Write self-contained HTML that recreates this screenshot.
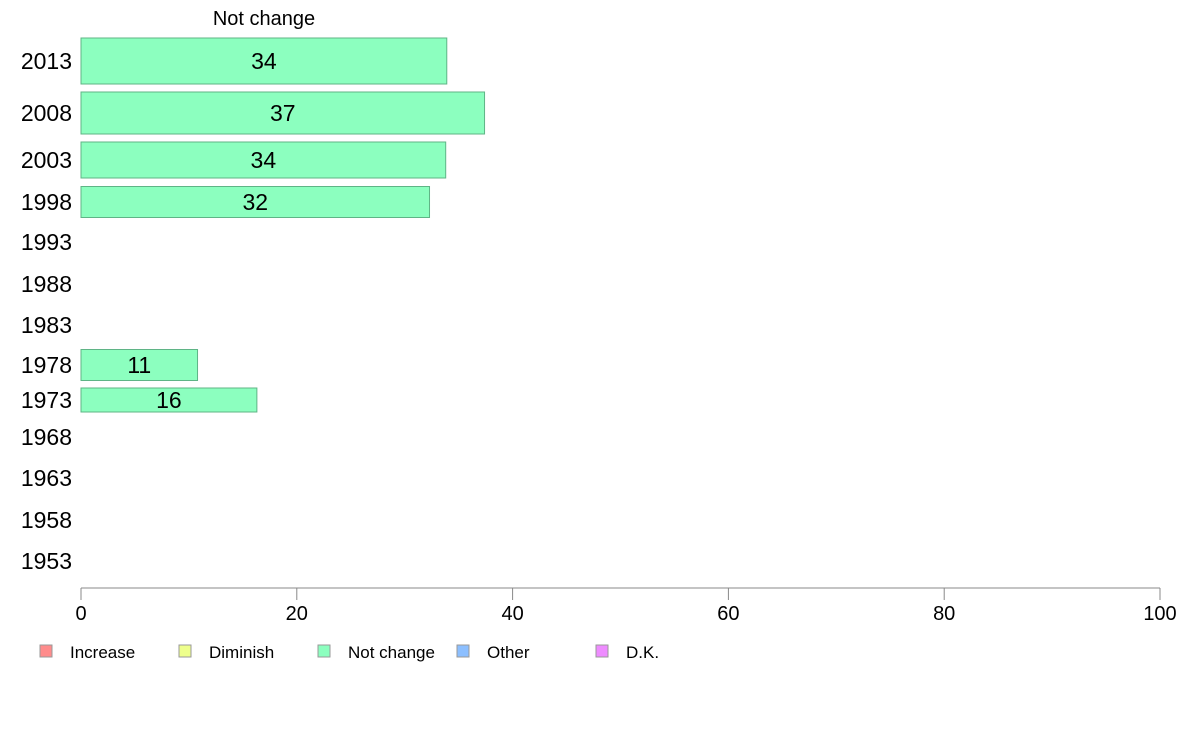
<!DOCTYPE html>
<html><head><meta charset="utf-8"><style>
body{margin:0;background:#fff;}
svg text{font-family:"Liberation Sans",sans-serif;}
</style></head><body>
<svg width="1188" height="736">
<g id="g"></g>
</svg>
<script>
const years=["2013","2008","2003","1998","1993","1988","1983","1978","1973","1968","1963","1958","1953"];
const notChange=[33.9,37.4,33.8,32.3,null,null,null,10.8,16.3,null,null,null,null];
const rowHeights=[46,42,36,31,0,0,0,31,24,0,0,0,0];
const ticks=[0,20,40,60,80,100];
const legendLabels=["Increase","Diminish","Not change","Other","D.K."];
const legendColors=["#ff8c8c","#eeff8c","#8cffbf","#8cbfff","#ee8cff"];
const rowCenters=[61,113,160,202,242,284,325,365,400,437,478,520,561];
const ns="http://www.w3.org/2000/svg",g=document.getElementById('g');
const x=v=>81+v*10.79;
function mk(t,a,txt){const e=document.createElementNS(ns,t);for(const k in a)e.setAttribute(k,a[k]);if(txt!=null)e.textContent=txt;g.appendChild(e);return e;}
let t=mk('text',{x:264,y:25,'font-size':20,'text-anchor':'middle'},"Not change");


years.forEach((y,i)=>{
 let l=mk('text',{x:72,y:rowCenters[i]+8,'font-size':23,'text-anchor':'end'},y);
 
 
 const v=notChange[i];
 if(v!=null){
  const h=rowHeights[i];
  let r=mk('rect',{x:x(0),y:rowCenters[i]-h/2,width:x(v)-x(0),height:h,fill:'#8cffbf',stroke:'#5fb486','stroke-width':1});
  
  
  let vt=mk('text',{x:(x(0)+x(v))/2,y:rowCenters[i]+8,'font-size':23,'text-anchor':'middle'},Math.round(v));
  
  
 }
});
let ax=mk('line',{x1:x(0),x2:x(100),y1:588,y2:588,stroke:'#888','stroke-width':1});


ticks.forEach(v=>{
 let tk=mk('line',{x1:x(v),x2:x(v),y1:588,y2:600,stroke:'#888'});
 
 
 let tl=mk('text',{x:x(v),y:620,'font-size':20,'text-anchor':'middle'},v);
 
 
});
const lx=[40,179,318,457,596];
legendLabels.forEach((n,i)=>{
 let s=mk('rect',{x:lx[i],y:645,width:12,height:12,fill:legendColors[i],stroke:'#999'});
 
 
 let lt=mk('text',{x:lx[i]+30,y:658,'font-size':17},n);
 
 
});
</script>
</body></html>
